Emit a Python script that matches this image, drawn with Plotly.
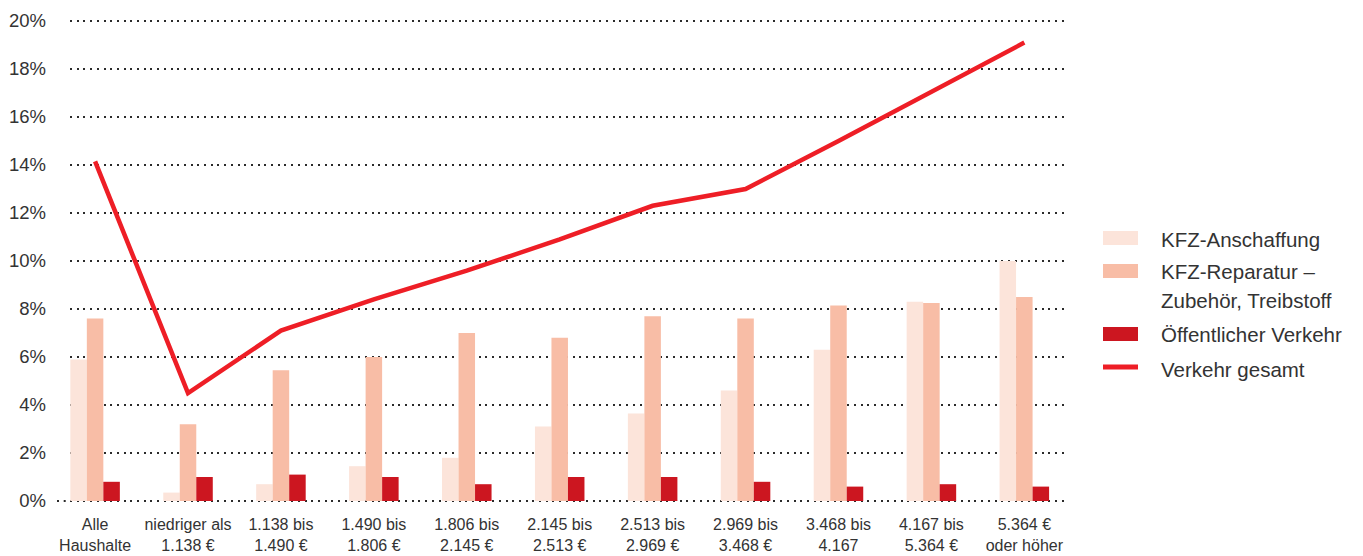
import plotly.graph_objects as go

categories = ["Alle<br>Haushalte", "niedriger als<br>1.138 €", "1.138 bis<br>1.490 €",
              "1.490 bis<br>1.806 €", "1.806 bis<br>2.145 €", "2.145 bis<br>2.513 €",
              "2.513 bis<br>2.969 €", "2.969 bis<br>3.468 €", "3.468 bis<br>4.167",
              "4.167 bis<br>5.364 €", "5.364 €<br>oder höher"]
kfz_anschaffung = [5.9, 0.35, 0.7, 1.45, 1.8, 3.1, 3.65, 4.6, 6.3, 8.3, 10.0]
kfz_reparatur = [7.6, 3.2, 5.45, 6.0, 7.0, 6.8, 7.7, 7.6, 8.15, 8.25, 8.5]
oeffentlich = [0.8, 1.0, 1.1, 1.0, 0.7, 1.0, 1.0, 0.8, 0.6, 0.7, 0.6]
verkehr_gesamt = [14.15, 4.5, 7.1, 8.4, 9.6, 10.9, 12.3, 13.0, 15.0, 17.05, 19.1]
y_ticks = [0, 2, 4, 6, 8, 10, 12, 14, 16, 18, 20]

C_LIGHT = "#FCE4DA"
C_MED = "#F8BDA6"
C_DARK = "#CC1620"
C_LINE = "#EE1E26"
TXT = "#333333"
FONT = "Liberation Sans, Arial, sans-serif"

x = list(range(len(categories)))

fig = go.Figure()
fig.add_trace(go.Bar(x=x, y=kfz_anschaffung, name="KFZ-Anschaffung", marker_color=C_LIGHT,
                     marker_line_width=0, showlegend=False))
fig.add_trace(go.Bar(x=x, y=kfz_reparatur, name="KFZ-Reparatur – Zubehör, Treibstoff",
                     marker_color=C_MED, marker_line_width=0, showlegend=False))
fig.add_trace(go.Bar(x=x, y=oeffentlich, name="Öffentlicher Verkehr", marker_color=C_DARK,
                     marker_line_width=0, showlegend=False))
fig.add_trace(go.Scatter(x=x, y=verkehr_gesamt, name="Verkehr gesamt", mode="lines",
                         line=dict(color=C_LINE, width=4.5), showlegend=False))

# page body has an 8px default margin; work in screen pixels and convert
OFF = 8
W, H = 1363 - OFF, 556 - OFF
PL, PR, PT, PB = 70, 1068, 15, 507          # plot area in screen pixels
L = PL - OFF
R = W - (PR - OFF)
T = PT - OFF
B = H - (PB - OFF)
pw = PR - PL
ph = PB - PT

def px(xp):
    return (xp - PL) / pw

def py(yp):
    return (PB - yp) / ph

fig.update_layout(
    width=W, height=H,
    margin=dict(l=L, r=R, t=T, b=B, autoexpand=False),
    paper_bgcolor="white", plot_bgcolor="white",
    barmode="group", bargap=0.467, bargroupgap=0,
    font=dict(family=FONT, color=TXT),
    showlegend=False,
    xaxis=dict(
        tickmode="array", tickvals=x, ticktext=categories, automargin=False,
        range=[-0.27, 10.47], showgrid=False, zeroline=False, showline=False,
        ticks="", tickfont=dict(size=16, color=TXT), ticklabelstandoff=6,
    ),
    yaxis=dict(
        range=[-0.25, 20.25], tickmode="array", tickvals=y_ticks, automargin=False,
        ticktext=[f"{v}%" for v in y_ticks],
        showgrid=True, gridcolor="#2b2b2b", gridwidth=2, griddash="2px,4.7px",
        zeroline=False, showline=False, ticks="",
        tickfont=dict(size=18.5, color=TXT), ticklabelstandoff=23,
    ),
)

# extend the 0% dotted line slightly to the left as in the reference
fig.add_shape(type="line", xref="paper", yref="y", x0=px(57), x1=px(70), y0=0, y1=0,
              line=dict(color="#2b2b2b", width=2, dash="2px,4.7px"), layer="below")

# manual legend
sw_x0, sw_x1 = px(1103), px(1138)
for (y0, y1, col) in [(231, 245, C_LIGHT), (264, 278, C_MED), (327, 341, C_DARK)]:
    fig.add_shape(type="rect", xref="paper", yref="paper", x0=sw_x0, x1=sw_x1,
                  y0=py(y1), y1=py(y0), line_width=0, fillcolor=col)
fig.add_shape(type="line", xref="paper", yref="paper", x0=sw_x0, x1=sw_x1,
              y0=py(367), y1=py(367), line=dict(color=C_LINE, width=5))

legend_texts = [("KFZ-Anschaffung", 239), ("KFZ-Reparatur –", 271),
                ("Zubehör, Treibstoff", 300), ("Öffentlicher Verkehr", 334),
                ("Verkehr gesamt", 369)]
for txt, yc in legend_texts:
    fig.add_annotation(text=txt, xref="paper", yref="paper", x=px(1159), y=py(yc),
                       xanchor="left", yanchor="middle", showarrow=False,
                       font=dict(size=20.5, color=TXT, family=FONT))

fig.write_html("out.html")
